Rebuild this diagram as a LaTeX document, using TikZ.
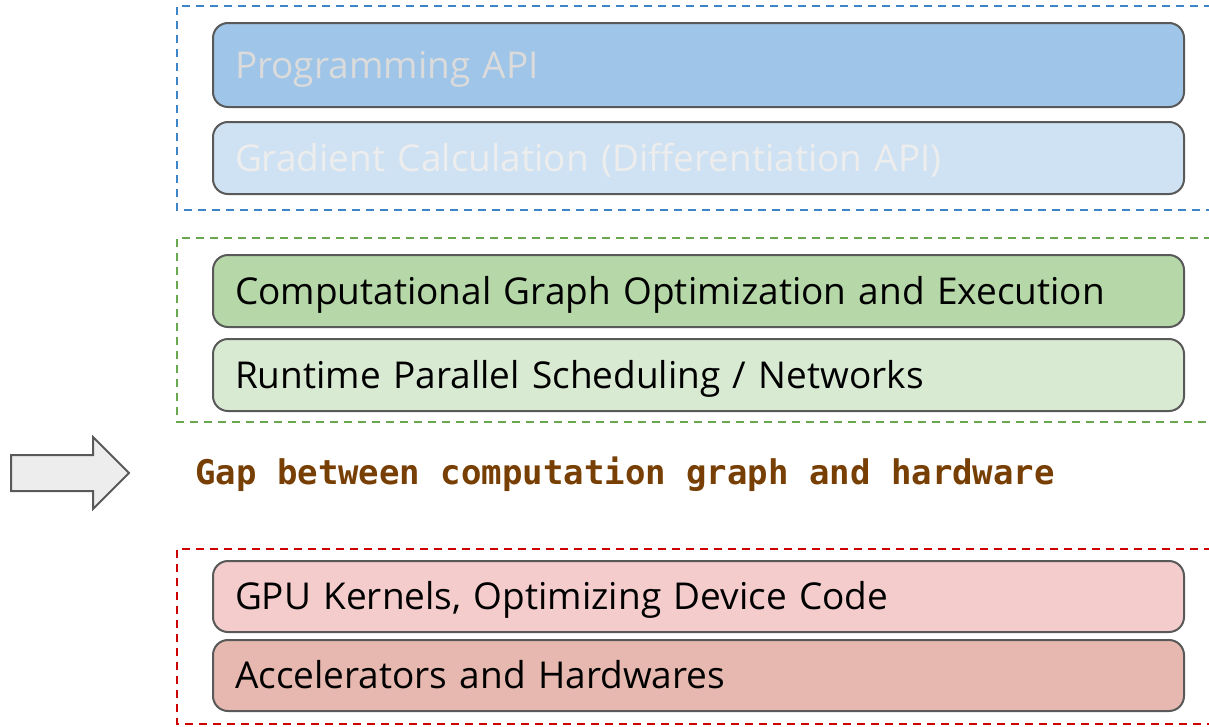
\documentclass[tikz,border=0pt]{standalone}
\usepackage{fontspec}
\setmainfont{Open Sans}
\newfontfamily\gapfont{DejaVu Sans Mono}
\definecolor{apiblue}{HTML}{9FC5E8}
\definecolor{gradblue}{HTML}{CFE2F3}
\definecolor{graphgreen}{HTML}{B6D7A8}
\definecolor{rungreen}{HTML}{D9EAD3}
\definecolor{gpupink}{HTML}{F4CCCC}
\definecolor{hwpink}{HTML}{E6B8AF}
\definecolor{edgegray}{HTML}{595959}
\definecolor{dashblue}{HTML}{3D85C6}
\definecolor{dashgreen}{HTML}{6AA84F}
\definecolor{dashred}{HTML}{CC0000}
\definecolor{gapbrown}{HTML}{783F04}
\begin{document}
\begin{tikzpicture}[x=1pt,y=-1pt,
  layer/.style={draw=edgegray, line width=2pt, rounded corners=15pt,
    minimum width=971pt, text width=927pt, inner xsep=22pt, inner ysep=0pt,
    text height=26.5pt, text depth=0pt,
    align=left, anchor=north west, font=\fontsize{37}{40}\selectfont},
  group/.style={line width=2pt, dash pattern=on 8pt off 6pt}]
\useasboundingbox (0,0) rectangle (1209,726);

% group frames, open to the right
\draw[group, draw=dashblue] (1212,6) -- (177,6) -- (177,210) -- (1212,210);
\draw[group, draw=dashgreen] (1212,238) -- (177,238) -- (177,422) -- (1212,422);
\draw[group, draw=dashred] (1212,549) -- (177,549) -- (177,724) -- (1212,724);

% stacked layers
\node[layer, fill=apiblue, text=black!14, minimum height=84pt] (api) at (212,22) {Programming API};
\node[layer, fill=gradblue, text=black!7, minimum height=72pt] (grad) at (212,121) {Gradient Calculation (Differentiation API)};
\node[layer, fill=graphgreen, minimum height=72pt] (graph) at (212,254) {Computational Graph Optimization and Execution};
\node[layer, fill=rungreen, minimum height=72pt] (run) at (212,338) {Runtime Parallel Scheduling / Networks};
\node[layer, fill=gpupink, minimum height=71pt] (gpu) at (212,560) {GPU Kernels, Optimizing Device Code};
\node[layer, fill=hwpink, minimum height=71pt] (hw) at (212,639) {Accelerators and Hardwares};

% gap label and pointer
\node[anchor=west, inner sep=0pt, text=gapbrown, font=\gapfont\bfseries\fontsize{34}{40}\selectfont] (gap) at (195,474) {Gap between computation graph and hardware};
\draw[draw=edgegray, fill=black!7, line width=2pt, line join=miter]
  (11,455) -- (93,455) -- (93,437) -- (129,473) -- (93,509) -- (93,491) -- (11,491) -- cycle;
\end{tikzpicture}
\end{document}
